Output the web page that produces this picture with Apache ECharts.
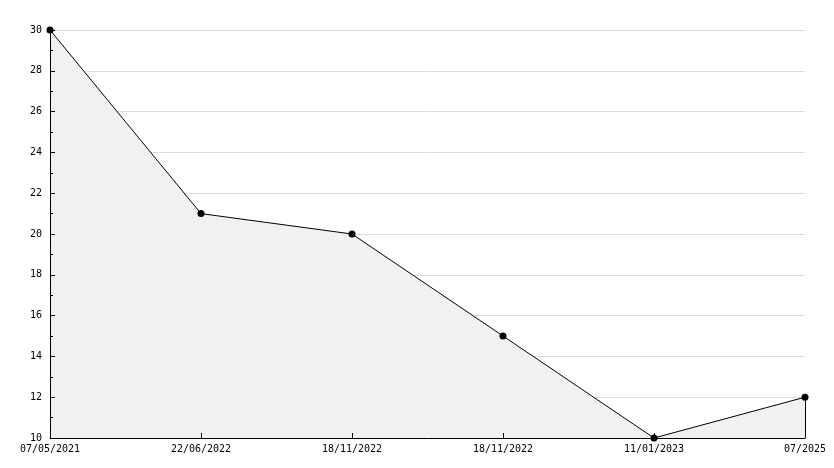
<!DOCTYPE html>
<html><head><meta charset="utf-8">
<script src="https://cdn.jsdelivr.net/npm/echarts@6/dist/echarts.min.js"></script>
<style>html,body{margin:0;padding:0;background:#fff}#c{width:834px;height:468px}</style>
</head><body><div id="c"></div>
<script>
const categories = ['07/05/2021','22/06/2022','18/11/2022','18/11/2022','11/01/2023','07/2025'];
const values = [30, 21, 20, 15, 10, 12];
const yTicks = [10,12,14,16,18,20,22,24,26,28,30];

const font = 'DejaVu Sans Mono';
const chart = echarts.init(document.getElementById('c'));
const lastIdx = categories.length - 1;
const yMin = yTicks[0], yMax = yTicks[yTicks.length-1];
chart.setOption({
  animation: false,
  backgroundColor: '#fff',
  grid: {left: 50, right: 29, top: 30, bottom: 30, containLabel: false},
  xAxis: {
    type: 'value', min: 0, max: lastIdx, interval: 1, z: 10,
    axisLine: {show: true, onZero: false, lineStyle: {color: '#000', width: 1}},
    axisTick: {show: true, inside: true, length: 5, lineStyle: {color: '#000'}},
    axisLabel: {fontFamily: font, fontSize: 10, color: '#000', margin: 6,
      formatter: v => categories[v] || ''},
    splitLine: {show: false}
  },
  yAxis: [{
    type: 'value', min: yMin, max: yMax, interval: 2, z: 0, position: 'left',
    axisLine: {show: false}, axisTick: {show: false}, axisLabel: {show: false},
    splitLine: {show: true, lineStyle: {color: '#dcdcdc', width: 1}}
  }, {
    type: 'value', min: yMin, max: yMax, interval: 2, z: 10, position: 'left',
    axisLine: {show: true, onZero: false, lineStyle: {color: '#000', width: 1}},
    axisTick: {show: true, inside: true, length: 5, lineStyle: {color: '#000'}},
    minorTick: {show: true, splitNumber: 2, length: 3, lineStyle: {color: '#000'}},
    axisLabel: {fontFamily: font, fontSize: 10, color: '#000', margin: 8,
      formatter: v => String(v)},
    splitLine: {show: false}
  }],
  series: [{
    type: 'line', yAxisIndex: 0,
    data: values.map((v, i) => [i, v]),
    symbol: 'circle', symbolSize: 7,
    itemStyle: {color: '#000'},
    lineStyle: {color: '#000', width: 1},
    areaStyle: {color: '#f1f1f1', opacity: 1},
    markLine: {
      silent: true, symbol: 'none', label: {show: false},
      lineStyle: {color: '#000', width: 1, type: 'solid'},
      data: [[{coord: [lastIdx, yMin]}, {coord: [lastIdx, values[lastIdx]]}]]
    }
  }]
});
</script></body></html>
